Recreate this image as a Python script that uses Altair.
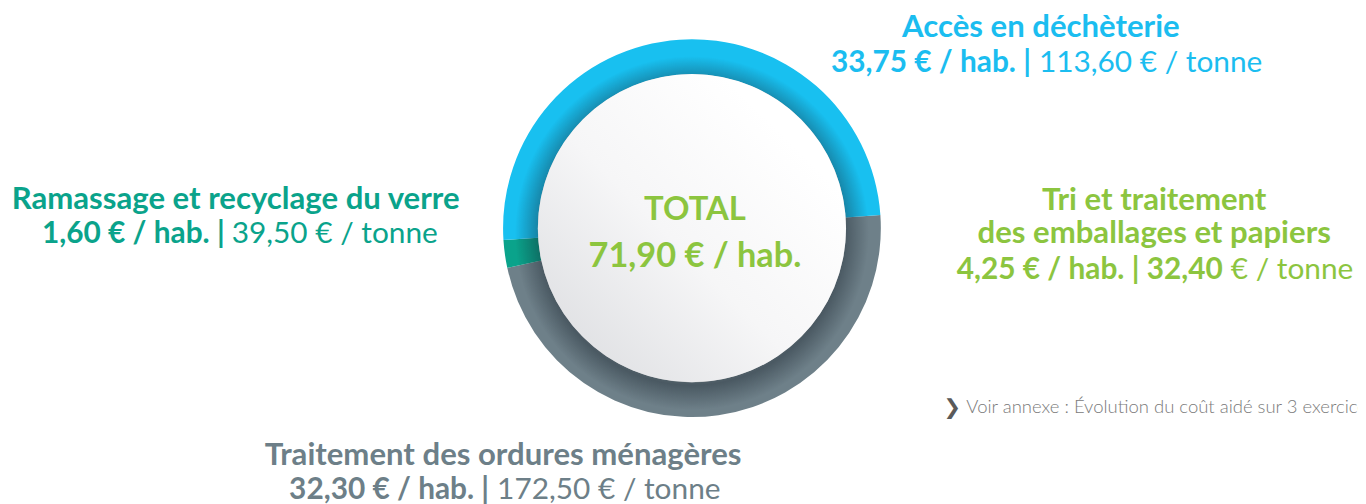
import altair as alt
import pandas as pd
import math

# ---- data ----
categories = ["Accès en déchèterie", "Ramassage et recyclage du verre",
              "Tri et traitement des emballages et papiers", "Traitement des ordures ménagères"]
cout_hab = [33.75, 1.60, 4.25, 32.30]
cout_tonne = [113.60, 39.50, 32.40, 172.50]
total_hab = 71.90
ring_categories = ["Traitement des ordures ménagères", "Ramassage et recyclage du verre", "Accès en déchèterie"]
ring_colors = ["#6e8089", "#0aa38b", "#18c0f0"]

def fr(v):
    return f"{v:.2f}".replace(".", ",")

hab = dict(zip(categories, cout_hab))
ton = dict(zip(categories, cout_tonne))

ring_df = pd.DataFrame({
    "categorie": ring_categories,
    "valeur": [hab[c] for c in ring_categories],
    "ordre": list(range(len(ring_categories))),
})

W, H = 1358, 496
CX, CY = 688, 220
R_OUT, R_IN = 190, 155
START = math.radians(86)

FONT = "Lato"
BLUE = "#1bbdf0"
TEAL = "#0aa38b"
GREEN = "#8cc53f"
GRAY = "#6d7f88"
TS = 31.3   # title size
VS = 30     # value line size

one = alt.Data(values=[{"k": 0}])

def txt(s, x, y, color, size=TS, weight="bold", align="center", font=FONT):
    return alt.Chart(one).mark_text(
        text=s, align=align, baseline="alphabetic", font=font,
        fontSize=size, fontWeight=weight, color=color
    ).encode(x=alt.value(x), y=alt.value(y))

ring = alt.Chart(ring_df).mark_arc(radius=R_OUT, radius2=R_IN, stroke=None).encode(
    theta=alt.Theta("valeur:Q", stack=True,
                    scale=alt.Scale(range=[START, START + 2 * math.pi])),
    color=alt.Color("categorie:N", scale=alt.Scale(domain=ring_categories, range=ring_colors), legend=None),
    order=alt.Order("ordre:Q"),
    x=alt.value(CX), y=alt.value(CY),
)

shadow = alt.Chart(one).mark_arc(
    theta=0, theta2=2 * math.pi, radius=178,
    color=alt.Gradient(gradient="radial",
                       stops=[alt.GradientStop(color="rgba(0,0,0,0)", offset=0),
                              alt.GradientStop(color="rgba(0,0,0,0)", offset=0.78),
                              alt.GradientStop(color="rgba(20,30,40,0.40)", offset=0.86),
                              alt.GradientStop(color="rgba(20,30,40,0)", offset=1)],
                       x1=0.5, y1=0.5, r1=0, x2=0.5, y2=0.5, r2=0.5),
).encode(x=alt.value(CX), y=alt.value(CY + 5))

inner = alt.Chart(one).mark_arc(
    theta=0, theta2=2 * math.pi, radius=R_IN,
    color=alt.Gradient(gradient="linear",
                       stops=[alt.GradientStop(color="#dfe0e3", offset=0),
                              alt.GradientStop(color="#f6f6f7", offset=0.5),
                              alt.GradientStop(color="#ffffff", offset=1)],
                       x1=0.1, y1=0.9, x2=0.8, y2=0.2),
).encode(x=alt.value(CX), y=alt.value(CY))

acc, ver, tri, om = categories

layers = [
    ring, shadow, inner,
    # centre
    txt("TOTAL", CX + 3, 212, GREEN, size=33),
    txt(f"{fr(total_hab)} € / hab.", CX + 3, 259, GREEN, size=34.5),
    # Accès en déchèterie
    txt(acc, 1039, 28, BLUE),
    txt(f"{fr(hab[acc])} € / hab. |", 1029, 63, BLUE, size=VS, align="right"),
    txt(f"{fr(ton[acc])} € / tonne", 1037, 63, BLUE, size=VS, weight="normal", align="left"),
    # Verre
    txt(ver, 229, 201, TEAL),
    txt(f"{fr(hab[ver])} € / hab. |", 218, 235, TEAL, size=VS, align="right"),
    txt(f"{fr(ton[ver])} € / tonne", 225, 235, TEAL, size=VS, weight="normal", align="left"),
    # Tri
    txt("Tri et traitement", 1153, 202, GREEN),
    txt("des emballages et papiers", 1153, 235, GREEN),
    txt(f"{fr(hab[tri])} € / hab. | {fr(ton[tri])}", 1222, 271, GREEN, size=VS, align="right"),
    txt("€ / tonne", 1230, 271, GREEN, size=VS, weight="normal", align="left"),
    # OM
    txt(om, 498, 458, GRAY),
    txt(f"{fr(hab[om])} € / hab. |", 484, 492, GRAY, size=VS, align="right"),
    txt(f"{fr(ton[om])} € / tonne", 492, 492, GRAY, size=VS, weight="normal", align="left"),
    # annexe
    txt("❯", 941, 407, "#5a5a5a", size=21, weight="bold", align="left", font="DejaVu Sans"),
    txt("Voir annexe  : Évolution du coût aidé sur 3 exercices", 964, 406, "#7a7a7a",
        size=18.6, weight=300, align="left"),
]

chart = alt.layer(*layers).properties(
    width=W, height=H, padding=0, autosize=alt.AutoSizeParams(type="none"),
    background="white",
).configure_view(stroke=None)

chart.save("out.html", embed_options={"renderer": "svg", "actions": False})
